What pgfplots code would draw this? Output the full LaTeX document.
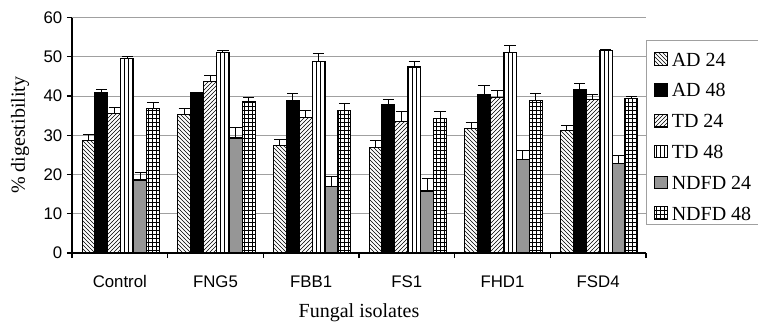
\documentclass[border=0pt]{standalone}
\usepackage{pgfplots}
\pgfplotsset{compat=1.18}
\usepackage{pgfplotstable}
\usetikzlibrary{patterns}
\usepackage{fontspec}
\setmainfont{Liberation Serif}
\newfontfamily\ticksans{Liberation Sans}
\definecolor{ndgray}{RGB}{150,150,150}
\definecolor{gridgray}{RGB}{160,160,160}
% g = group (0 Control, 1 FNG5, 2 FBB1, 3 FS1, 4 FHD1, 5 FSD4), v = value, e = error
\pgfplotstableread{
g v e
0 28.7 1.6
1 35.3 1.6
2 27.3 1.6
3 26.8 1.9
4 31.7 1.6
5 31.1 1.3
}\adA
\pgfplotstableread{
g v e
0 40.8 0.8
1 40.8 0.0
2 38.9 1.7
3 37.9 1.3
4 40.5 2.2
5 41.6 1.6
}\adB
\pgfplotstableread{
g v e
0 35.6 1.4
1 43.6 1.7
2 34.5 1.7
3 33.4 2.7
4 39.6 1.9
5 39.1 1.4
}\tdA
\pgfplotstableread{
g v e
0 49.5 0.5
1 51.1 0.6
2 48.9 1.9
3 47.4 1.5
4 51.2 1.6
5 51.5 0.4
}\tdB
\pgfplotstableread{
g v e
0 18.6 1.9
1 29.3 2.6
2 16.9 2.5
3 15.8 3.2
4 23.8 2.4
5 22.8 2.1
}\ndA
\pgfplotstableread{
g v e
0 36.8 1.5
1 38.7 0.9
2 36.2 2.0
3 34.3 1.7
4 38.9 1.7
5 39.3 0.6
}\ndB
\begin{document}
\begin{tikzpicture}
\begin{axis}[
  name=ax,
  scale only axis,
  width=430.5pt, height=176.6pt,
  xmin=-0.5, xmax=5.5,
  ymin=0, ymax=60,
  ytick={0,10,...,60},
  xtick={-0.5,0.5,...,5.5},
  xticklabels={},
  extra x ticks={0,1,2,3,4,5},
  extra x tick labels={Control,FNG5,FBB1,FS1,FHD1,FSD4},
  extra x tick style={major tick length=0pt, tick label style={anchor=base, yshift=-25.5pt}},
  axis x line*=bottom,
  axis y line*=left,
  axis line style={line width=0.8pt, black},
  tick style={line width=0.8pt, black},
  tick align=outside,
  major tick length=3.75pt,
  ymajorgrids,
  grid style={gridgray, line width=0.5pt},
  /pgf/number format/assume math mode=true,
  tick label style={font=\ticksans\fontsize{12.6}{14}\selectfont},
  ylabel={\% digestibility},
  xlabel={Fungal isolates},
  every axis y label/.style={at={(axis description cs:-0.0906,0.5)}, rotate=90, anchor=center, font=\fontsize{15}{18}\selectfont},
  every axis x label/.style={at={(axis description cs:0.5,-0.2718)}, anchor=base, font=\fontsize{15}{18}\selectfont},
  legend style={at={(axis description cs:1,0.9045)}, anchor=north west,
    draw=gridgray, line width=0.5pt, inner xsep=6pt, inner ysep=2.5pt,
    row sep=5.3pt, column sep=2pt,
    font=\fontsize{15}{18}\selectfont,
    nodes={inner sep=1pt, text height=15.8pt, text depth=0pt}},
  legend cell align=left,
  legend image code/.code={\draw[#1, line width=0.6pt] (0pt,-7.4pt) rectangle (9.5pt,2.1pt);},
  every axis plot/.append style={line width=0.8pt, draw=black},
  error bars/y dir=plus,
  error bars/y explicit,
  error bars/error bar style={line width=0.8pt, black},
  error bars/error mark options={black, mark size=4.25pt, line width=0.8pt, rotate=90},
]
\coordinate (o) at (axis description cs:0,0);
\addplot[ybar, bar width=0.135, bar shift=0, preaction={fill=white}, pattern=north west lines]
  table[x expr=\thisrow{g}-0.327, y=v, y error=e] {\adA};
\addlegendentry{AD 24}
\addplot[ybar, bar width=0.135, bar shift=0, fill=black]
  table[x expr=\thisrow{g}-0.192, y=v, y error=e] {\adB};
\addlegendentry{AD 48}
\addplot[ybar, bar width=0.135, bar shift=0, preaction={fill=white}, pattern=north east lines]
  table[x expr=\thisrow{g}-0.057, y=v, y error=e] {\tdA};
\addlegendentry{TD 24}
\addplot[ybar, bar width=0.135, bar shift=0, preaction={fill=white}, pattern=vertical lines]
  table[x expr=\thisrow{g}+0.078, y=v, y error=e] {\tdB};
\addlegendentry{TD 48}
\addplot[ybar, bar width=0.135, bar shift=0, fill=ndgray]
  table[x expr=\thisrow{g}+0.213, y=v, y error=e] {\ndA};
\addlegendentry{NDFD 24}
\addplot[ybar, bar width=0.135, bar shift=0, preaction={fill=white}, pattern=grid]
  table[x expr=\thisrow{g}+0.348, y=v, y error=e] {\ndB};
\addlegendentry{NDFD 48}
\end{axis}
\pgfresetboundingbox
\path (o) ++(-54pt,-51.75pt) rectangle ++(568.5pt,241.5pt);
\end{tikzpicture}
\end{document}
